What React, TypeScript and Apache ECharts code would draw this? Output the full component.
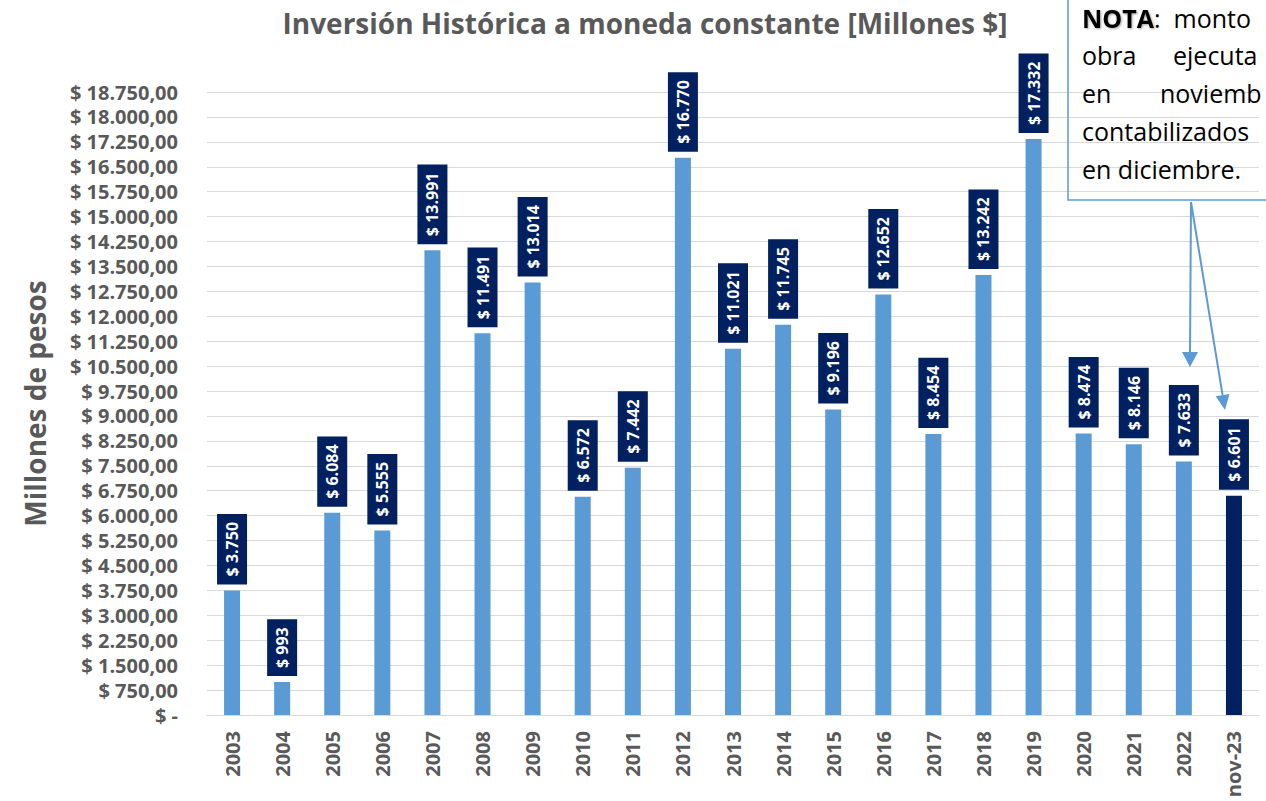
import React, { useEffect, useRef } from "react";
import * as echarts from "echarts";

const categories = ["2003","2004","2005","2006","2007","2008","2009","2010","2011","2012","2013","2014","2015","2016","2017","2018","2019","2020","2021","2022","nov-23"];
const values = [3750, 993, 6084, 5555, 13991, 11491, 13014, 6572, 7442, 16770, 11021, 11745, 9196, 12652, 8454, 13242, 17332, 8474, 8146, 7633, 6601];
const highlightIndex = 20;
const yMax = 18750;
const yInterval = 750;

const FONT = "Open Sans";
const GRAY = "#595959";

function esNum(v: number, dec: number): string {
  const fixed = v.toFixed(dec);
  const [intPart, decPart] = fixed.split(".");
  const withDots = intPart.replace(/\B(?=(\d{3})+(?!\d))/g, ".");
  return decPart ? withDots + "," + decPart : withDots;
}

export default function App() {
  const ref = useRef<HTMLDivElement>(null);
  useEffect(() => {
    if (!ref.current) return;
    const chart = echarts.init(ref.current, null, { renderer: "svg" });
    const slDir = { x: 34, y: 208 };
    const len = Math.sqrt(slDir.x * slDir.x + slDir.y * slDir.y);
    const dx = slDir.x / len, dy = slDir.y / len;
    const tip2 = [1225, 410];
    const base2 = [tip2[0] - 15 * dx, tip2[1] - 15 * dy];
    const px = dy * 7, py = -dx * 7;
    const noteStyle = { fill: "#000", fontSize: 25, fontFamily: "Open Sans, sans-serif", verticalAlign: "middle" };
    chart.setOption({
      animation: false,
      backgroundColor: "#ffffff",
      title: {
        text: "Inversión Histórica a moneda constante [Millones $]",
        left: 640,
        textAlign: "center",
        top: 4,
        textStyle: { color: GRAY, fontSize: 28, fontWeight: "bold", fontFamily: FONT },
      },
      grid: { left: 207, right: 7, top: 92, bottom: 86, containLabel: false },
      xAxis: {
        type: "category",
        data: categories,
        axisLine: { show: true, lineStyle: { color: "#d9d9d9" } },
        axisTick: { show: false },
        axisLabel: { rotate: 90, margin: 16, color: GRAY, fontSize: 20, fontWeight: "bold", fontFamily: FONT, interval: 0 },
      },
      yAxis: {
        type: "value",
        min: 0,
        max: yMax,
        interval: yInterval,
        name: "Millones de pesos",
        nameLocation: "middle",
        nameRotate: 90,
        nameGap: 158,
        nameTextStyle: { color: GRAY, fontSize: 28, fontWeight: "bold", fontFamily: FONT },
        axisLine: { show: false },
        axisTick: { show: false },
        splitLine: { lineStyle: { color: "#d9d9d9", width: 1 } },
        axisLabel: {
          margin: 29,
          color: GRAY,
          fontSize: 20,
          fontWeight: "bold",
          fontFamily: FONT,
          formatter: (v: number) => (v === 0 ? "$ -" : "$ " + esNum(v, 2)),
        },
      },
      series: [
        {
          type: "bar",
          barWidth: 16,
          data: values.map((v, i) => ({
            value: v,
            itemStyle: { color: i === highlightIndex ? "#002060" : "#5b9bd5" },
          })),
          label: {
            show: true,
            position: "top",
            distance: 6,
            rotate: 90,
            align: "left",
            verticalAlign: "middle",
            color: "#ffffff",
            fontSize: 16,
            fontWeight: "bold",
            fontFamily: FONT,
            lineHeight: 18,
            backgroundColor: "#002060",
            padding: [6, 8, 6, 8],
            formatter: (p: any) => "$ " + esNum(p.value, 0),
          },
        },
      ],
      graphic: [
        { type: "rect", shape: { x: 1068, y: -4, width: 220, height: 204 }, style: { fill: "none", stroke: "#5b9bd5", lineWidth: 1.5 }, z: 10 },
        {
          type: "text", x: 1082, y: 18, z: 11,
          style: {
            ...noteStyle,
            text: "{b|NOTA}:  monto",
            rich: { b: { fontWeight: "bold", fontSize: 25, fontFamily: "Open Sans, sans-serif", fill: "#000", textShadowColor: "rgba(0,0,0,0.35)", textShadowBlur: 2, textShadowOffsetX: 1, textShadowOffsetY: 1 } },
          },
        },
        { type: "text", x: 1082, y: 55, style: { ...noteStyle, text: "obra" }, z: 11 },
        { type: "text", x: 1173, y: 55, style: { ...noteStyle, text: "ejecuta" }, z: 11 },
        { type: "text", x: 1082, y: 93, style: { ...noteStyle, text: "en" }, z: 11 },
        { type: "text", x: 1160, y: 93, style: { ...noteStyle, text: "noviemb" }, z: 11 },
        { type: "text", x: 1082, y: 131, style: { ...noteStyle, text: "contabilizados" }, z: 11 },
        { type: "text", x: 1082, y: 169, style: { ...noteStyle, text: "en diciembre." }, z: 11 },
        { type: "line", shape: { x1: 1191, y1: 202, x2: 1190, y2: 353 }, style: { stroke: "#5b9bd5", lineWidth: 2 }, z: 10 },
        { type: "polygon", shape: { points: [[1182, 352], [1198, 352], [1190, 367]] }, style: { fill: "#5b9bd5" }, z: 10 },
        { type: "line", shape: { x1: 1191, y1: 202, x2: base2[0], y2: base2[1] }, style: { stroke: "#5b9bd5", lineWidth: 2 }, z: 10 },
        { type: "polygon", shape: { points: [[base2[0] + px, base2[1] + py], [base2[0] - px, base2[1] - py], tip2] }, style: { fill: "#5b9bd5" }, z: 10 },
      ],
    });
    return () => chart.dispose();
  }, []);
  return <div ref={ref} style={{ position: "absolute", left: 0, top: 0, width: 1266, height: 801 }} />;
}
